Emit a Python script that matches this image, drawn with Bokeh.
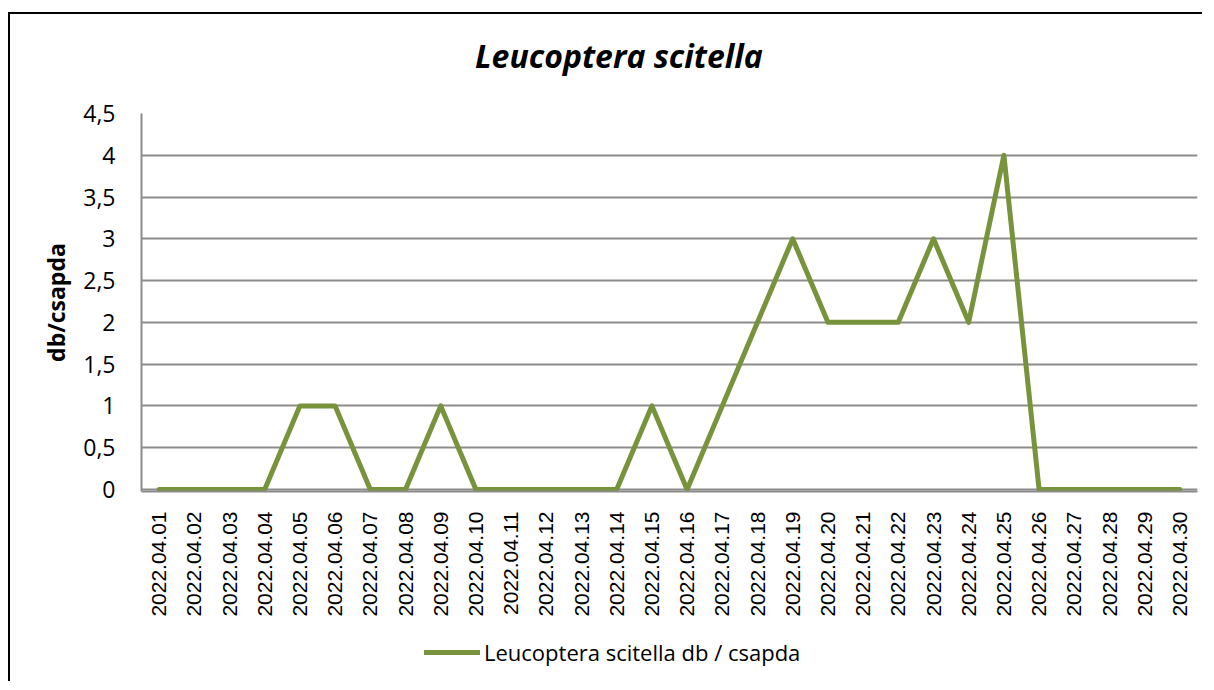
from bokeh.plotting import figure
from bokeh.layouts import column
from bokeh.models import Range1d, Legend, LegendItem, CustomJSTickFormatter, FixedTicker, Div
from bokeh.embed import file_html
from bokeh.resources import INLINE

dates = ["2022.04.%02d" % d for d in range(1, 31)]
values = [0, 0, 0, 0, 1, 1, 0, 0, 1, 0,
          0, 0, 0, 0, 1, 0, 1, 2, 3, 2,
          2, 2, 3, 2, 4, 0, 0, 0, 0, 0]
y_ticks = [0, 0.5, 1, 1.5, 2, 2.5, 3, 3.5, 4, 4.5]
series_name = "Leucoptera scitella db / csapda"
title_text = "Leucoptera scitella"
y_label = "db/csapda"

GREEN = "#77933C"
GRID = "#8C8C8C"
W = 1192

# title
title_div = Div(width=W, height=83, margin=0,
                text=('<div style="position:absolute; left:465px; top:20px; '
                      "font-family:'Open Sans'; font-weight:bold; font-style:italic; "
                      'font-size:32px; line-height:44px; color:black; white-space:nowrap">'
                      + title_text + '</div>'))

# main chart
p = figure(frame_width=1056, frame_height=378, x_range=dates, y_range=Range1d(-0.025, 4.5),
           output_backend="svg", toolbar_location=None,
           min_border_left=131, min_border_right=5, min_border_top=16, min_border_bottom=130)

r = p.line(dates, values, line_color=GREEN, line_width=5, line_join="round", line_cap="round")

p.outline_line_color = None
p.xgrid.grid_line_color = None
p.ygrid.grid_line_color = GRID
p.ygrid.grid_line_width = 2

p.yaxis.ticker = FixedTicker(ticks=y_ticks)
p.yaxis.formatter = CustomJSTickFormatter(code="return tick.toString().replace('.', ',');")
p.yaxis.axis_line_color = GRID
p.yaxis.axis_line_width = 2
p.yaxis.major_tick_line_color = None
p.yaxis.minor_tick_line_color = None
p.yaxis.major_label_text_font = "Open Sans"
p.yaxis.major_label_text_font_size = "23px"
p.yaxis.major_label_text_color = "black"
p.yaxis.major_label_standoff = 20
p.yaxis.axis_label = y_label
p.yaxis.axis_label_text_font = "Open Sans"
p.yaxis.axis_label_text_font_style = "bold"
p.yaxis.axis_label_text_font_size = "23px"
p.yaxis.axis_label_text_color = "black"
p.yaxis.axis_label_standoff = 8

p.xaxis.axis_line_color = GRID
p.xaxis.axis_line_width = 2
p.xaxis.major_tick_line_color = None
p.xaxis.minor_tick_line_color = None
p.xaxis.major_label_orientation = 1.5707963
p.xaxis.major_label_text_font = "Liberation Sans"
p.xaxis.major_label_text_font_size = "21px"
p.xaxis.major_label_text_color = "black"
p.xaxis.major_label_standoff = 14

# legend strip (series drawn out of view; only its legend entry shows)
p2 = figure(width=W, height=60, x_range=Range1d(0, len(dates)), y_range=Range1d(10, 11),
            output_backend="svg", toolbar_location=None,
            x_axis_location=None, y_axis_location=None, min_border=0)
p2.outline_line_color = None
p2.grid.visible = False
r2 = p2.line(list(range(len(values))), values, line_color=GREEN, line_width=5, line_cap="round")
legend = Legend(items=[LegendItem(label=series_name, renderers=[r2])],
                location=(283, 14), orientation="horizontal",
                label_text_font="Open Sans", label_text_font_size="22px", label_text_color="black",
                glyph_width=56, glyph_height=20, label_standoff=4,
                border_line_color=None, background_fill_alpha=0, margin=0, padding=0)
p2.add_layout(legend, "center")

layout = column(title_div, p, p2, spacing=0)
layout.styles = {"margin-left": "8px", "margin-top": "12px",
                 "border-left": "2px solid black", "border-top": "2px solid black"}

open("out.html", "w").write(file_html(layout, INLINE))
